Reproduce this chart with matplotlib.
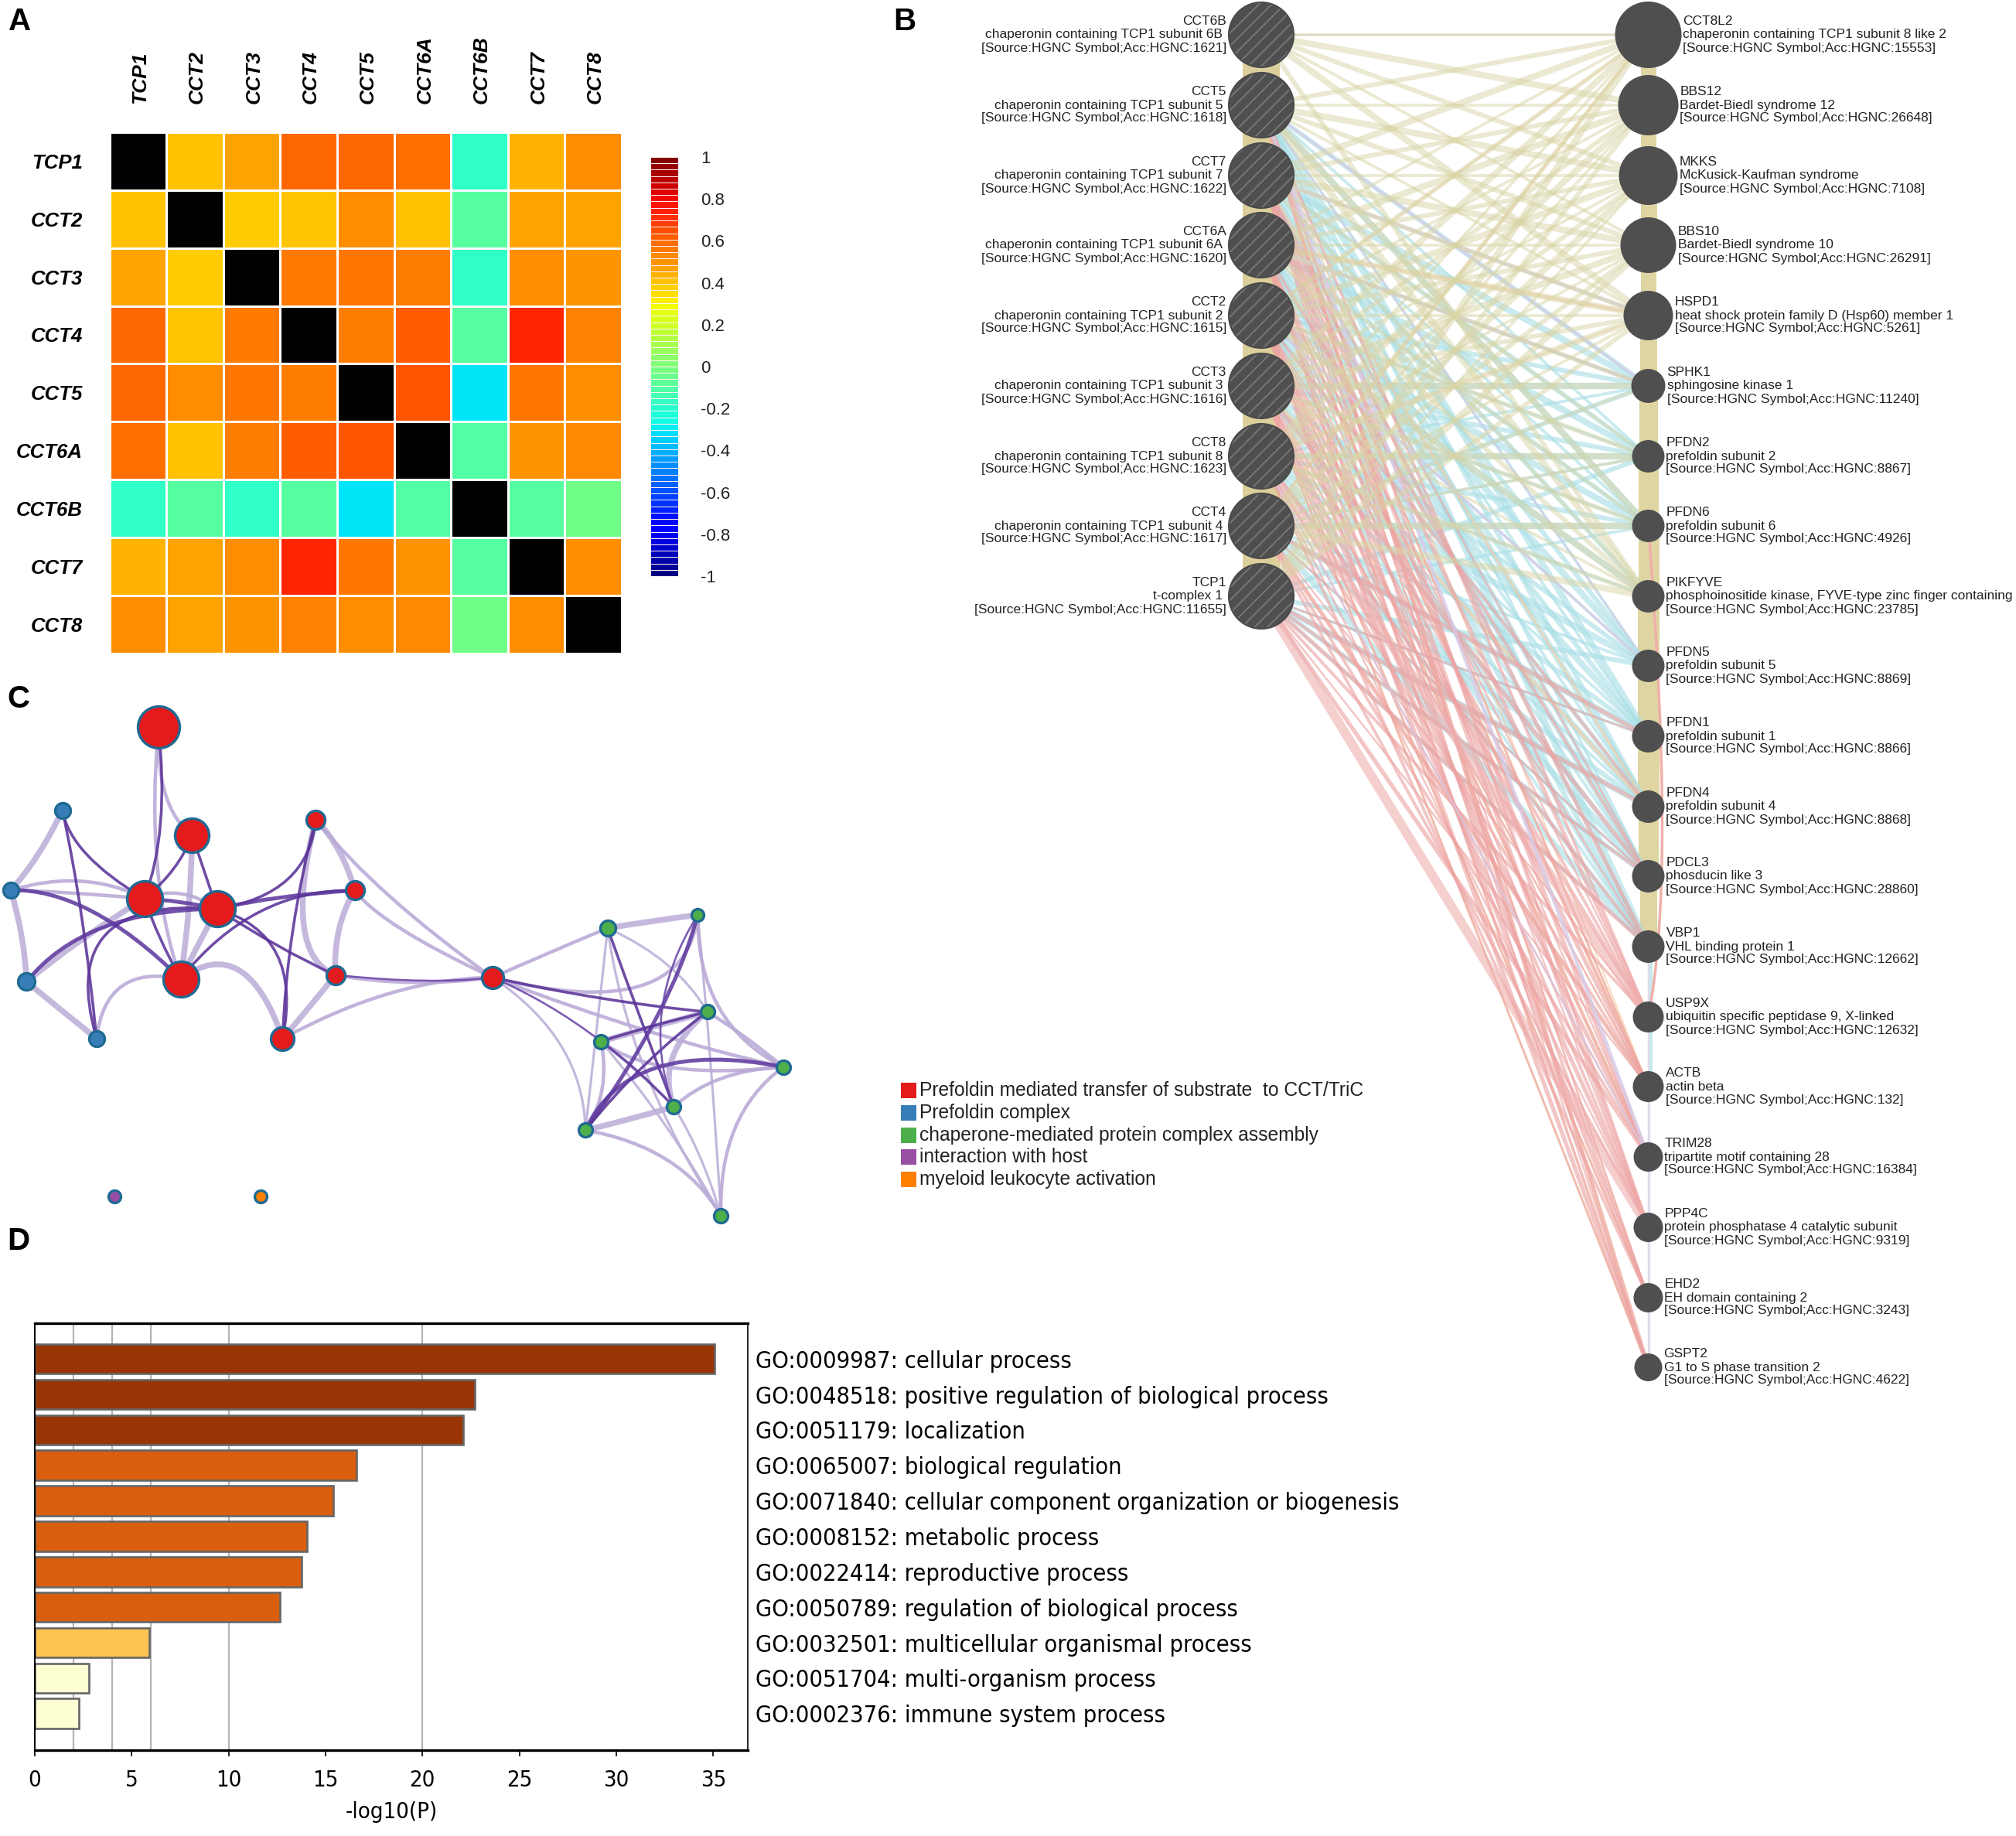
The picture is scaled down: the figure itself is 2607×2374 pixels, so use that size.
import numpy as np
import matplotlib
matplotlib.use("Agg")
import matplotlib.pyplot as plt
from matplotlib.path import Path
from matplotlib.patches import PathPatch, Circle
from matplotlib.transforms import ScaledTranslation

W, H = 2607, 2374
DPI = 100
plt.rcParams['font.family'] = ['Liberation Sans', 'DejaVu Sans']
plt.rcParams['hatch.linewidth'] = 1.4

# ---------- Panel A data ----------
genes = ["TCP1", "CCT2", "CCT3", "CCT4", "CCT5", "CCT6A", "CCT6B", "CCT7", "CCT8"]
corr_upper = [
    [.41, .47, .60, .60, .58, -.18, .44, .52],
    [.39, .40, .52, .41, -.09, .47, .47],
    [.56, .57, .55, -.18, .52, .50],
    [.55, .62, -.09, .74, .54],
    [.64, -.30, .57, .52],
    [-.10, .50, .53],
    [-.09, -.03],
    [.52],
]
cbar_ticks = [1, .8, .6, .4, .2, 0, -.2, -.4, -.6, -.8, -1]
cbar_labels = ["1", "0.8", "0.6", "0.4", "0.2", "0", "-0.2", "-0.4", "-0.6", "-0.8", "-1"]

# ---------- Panel B data ----------
left_genes = [
    ("CCT6B", "chaperonin containing TCP1 subunit 6B", "1621"),
    ("CCT5", "chaperonin containing TCP1 subunit 5", "1618"),
    ("CCT7", "chaperonin containing TCP1 subunit 7", "1622"),
    ("CCT6A", "chaperonin containing TCP1 subunit 6A", "1620"),
    ("CCT2", "chaperonin containing TCP1 subunit 2", "1615"),
    ("CCT3", "chaperonin containing TCP1 subunit 3", "1616"),
    ("CCT8", "chaperonin containing TCP1 subunit 8", "1623"),
    ("CCT4", "chaperonin containing TCP1 subunit 4", "1617"),
    ("TCP1", "t-complex 1", "11655"),
]
left_y = [45, 136, 227, 317, 408, 499, 590, 680, 771]
right_genes = [
    ("CCT8L2", "chaperonin containing TCP1 subunit 8 like 2", "15553"),
    ("BBS12", "Bardet-Biedl syndrome 12", "26648"),
    ("MKKS", "McKusick-Kaufman syndrome", "7108"),
    ("BBS10", "Bardet-Biedl syndrome 10", "26291"),
    ("HSPD1", "heat shock protein family D (Hsp60) member 1", "5261"),
    ("SPHK1", "sphingosine kinase 1", "11240"),
    ("PFDN2", "prefoldin subunit 2", "8867"),
    ("PFDN6", "prefoldin subunit 6", "4926"),
    ("PIKFYVE", "phosphoinositide kinase, FYVE-type zinc finger containing", "23785"),
    ("PFDN5", "prefoldin subunit 5", "8869"),
    ("PFDN1", "prefoldin subunit 1", "8866"),
    ("PFDN4", "prefoldin subunit 4", "8868"),
    ("PDCL3", "phosducin like 3", "28860"),
    ("VBP1", "VHL binding protein 1", "12662"),
    ("USP9X", "ubiquitin specific peptidase 9, X-linked", "12632"),
    ("ACTB", "actin beta", "132"),
    ("TRIM28", "tripartite motif containing 28", "16384"),
    ("PPP4C", "protein phosphatase 4 catalytic subunit", "9319"),
    ("EHD2", "EH domain containing 2", "3243"),
    ("GSPT2", "G1 to S phase transition 2", "4622"),
]
right_y = [45, 136, 227, 317, 408, 499, 590, 680, 771, 861, 952, 1043, 1133, 1224,
           1315, 1405, 1496, 1587, 1678, 1768]
right_r = [43, 39, 38, 36, 32, 22, 21, 21, 21, 21, 21, 21, 21, 21, 20, 20, 19, 19, 19, 18]

ALL = [0, 1, 2, 3, 4, 5, 6, 7, 8]
khaki_links = {
    "CCT8L2": ALL, "BBS12": ALL, "MKKS": ALL, "BBS10": ALL, "HSPD1": ALL,
    "SPHK1": [3, 5, 7], "PFDN2": [2, 4, 6, 7], "PFDN6": [1, 3, 5, 7],
    "PIKFYVE": [0, 1, 2, 3, 4, 5, 6, 7],
}
cyan_links = {
    "SPHK1": [1, 2, 3, 4, 5, 6, 7], "PFDN2": [1, 2, 3, 4, 5, 6, 7, 8],
    "PFDN6": [1, 2, 3, 4, 5, 6, 7, 8], "PIKFYVE": [2, 4, 6],
    "PFDN5": [1, 2, 3, 4, 5, 6, 7, 8], "PFDN1": [1, 2, 3, 4, 5, 6, 7, 8],
    "PFDN4": [1, 2, 3, 4, 5, 6, 7, 8], "PDCL3": [1, 2, 3, 4, 5, 6, 7, 8],
    "VBP1": [1, 2, 3, 4, 5, 6, 7, 8],
}
pink_links = {
    "PFDN1": [7, 8], "PFDN4": [4, 8], "PDCL3": [2, 3, 5, 7, 8], "VBP1": [2, 4, 6, 8],
    "USP9X": [1, 2, 3, 4, 5, 7, 8], "ACTB": [2, 3, 4, 5, 6, 7, 8],
    "TRIM28": [2, 3, 4, 5, 6, 7, 8], "PPP4C": [1, 2, 3, 4, 5, 6, 7],
    "EHD2": [2, 3, 4, 5, 6], "GSPT2": [1, 2, 3, 4, 5],
}
pink_strong = [("CCT8", "USP9X"), ("TCP1", "PPP4C")]
orange_links = {
    "CCT8L2": [4, 7], "HSPD1": [3, 6], "PFDN4": [2, 5], "ACTB": [1, 2, 3, 5, 7],
    "TRIM28": [4, 6], "EHD2": [2, 5], "GSPT2": [1, 3, 5],
}
lav_links = {"CCT8L2": [0], "SPHK1": [1, 3], "PFDN5": [1, 4], "HSPD1": [2], "TRIM28": [1, 6]}
band_links = [("CCT8L2", "BBS12", 20), ("BBS12", "MKKS", 20), ("MKKS", "BBS10", 21),
              ("BBS10", "HSPD1", 20), ("HSPD1", "SPHK1", 22), ("SPHK1", "PFDN2", 24),
              ("PFDN2", "PFDN6", 26), ("PFDN6", "PIKFYVE", 27), ("PIKFYVE", "PFDN5", 28),
              ("PFDN5", "PFDN1", 28), ("PFDN1", "PFDN4", 28), ("PFDN4", "PDCL3", 26),
              ("PDCL3", "VBP1", 22)]

# ---------- Panel C data (picture coordinates of the network panel) ----------
c_nodes = {
    "R0": (292, 130, 27, "#e41a1c"), "R1": (354, 435, 22, "#e41a1c"),
    "R2": (266, 614, 23, "#e41a1c"), "R3": (400, 643, 23, "#e41a1c"),
    "R4": (333, 840, 23, "#e41a1c"), "R5": (582, 391, 12, "#e41a1c"),
    "R6": (654, 591, 12, "#e41a1c"), "R7": (618, 829, 12, "#e41a1c"),
    "R8": (521, 1008, 15, "#e41a1c"), "R9": (908, 836, 14, "#e41a1c"),
    "B0": (115, 365, 10, "#377eb8"), "B1": (20, 590, 10, "#377eb8"),
    "B2": (49, 848, 11, "#377eb8"), "B3": (178, 1008, 10, "#377eb8"),
    "G0": (1120, 697, 10, "#4daf4a"), "G1": (1286, 660, 8, "#4daf4a"),
    "G2": (1304, 933, 9, "#4daf4a"), "G3": (1108, 1016, 9, "#4daf4a"),
    "G4": (1444, 1088, 9, "#4daf4a"), "G5": (1242, 1200, 9, "#4daf4a"),
    "G6": (1079, 1266, 9, "#4daf4a"), "G7": (1329, 1507, 9, "#4daf4a"),
    "P0": (211, 1452, 8, "#984ea3"), "O0": (481, 1452, 8, "#ff7f00"),
}
# (from, to, passes-through x, y, kind)
c_edges = [
    ("R0", "R4", 290, 520, "l"), ("R0", "R1", 305, 320, "l"),
    ("R1", "R4", 348, 640, "L"), ("R3", "R4", 365, 745, "L"),
    ("B0", "B1", 70, 490, "L"), ("B1", "B2", 40, 720, "L"), ("B2", "B3", 113, 928, "L"),
    ("B1", "R2", 150, 565, "l"), ("B1", "R2", 130, 598, "l"), ("B2", "R2", 150, 730, "L"),
    ("B3", "R4", 225, 860, "l"), ("R4", "R8", 440, 815, "L"),
    ("R5", "R6", 625, 480, "L"), ("R5", "R9", 720, 610, "l"), ("R6", "R9", 740, 700, "l"),
    ("R6", "R7", 625, 700, "L"), ("R5", "R7", 560, 690, "L"), ("R7", "R8", 570, 920, "L"),
    ("R7", "R9", 760, 850, "l"), ("R8", "R9", 720, 880, "l"), ("R2", "R3", 333, 600, "l"),
    ("R9", "G0", 1010, 768, "l"), ("R9", "G1", 1180, 860, "l"), ("R9", "G6", 1035, 1030, "t"),
    ("R9", "G4", 1190, 985, "l"), ("G0", "G1", 1200, 678, "L"), ("G0", "G6", 1100, 980, "t"),
    ("G0", "G2", 1230, 800, "t"), ("G0", "G7", 1190, 1100, "t"), ("G1", "G7", 1310, 1080, "t"),
    ("G1", "G4", 1325, 920, "l"), ("G2", "G4", 1370, 1000, "l"), ("G2", "G5", 1240, 1060, "L"),
    ("G3", "G6", 1110, 1150, "l"), ("G4", "G5", 1330, 1120, "l"), ("G4", "G7", 1355, 1260, "l"),
    ("G5", "G6", 1160, 1235, "L"), ("G6", "G7", 1230, 1350, "l"), ("G3", "G7", 1230, 1260, "t"),
    ("G5", "G7", 1290, 1340, "t"), ("G3", "G4", 1240, 1090, "l"), ("G2", "G3", 1205, 975, "L"),
    ("R0", "R2", 296, 400, "D"), ("R1", "R2", 320, 530, "D"), ("R1", "R3", 375, 530, "D"),
    ("R2", "R3", 333, 624, "X"), ("R2", "R4", 295, 725, "D"), ("B0", "R2", 160, 490, "D"),
    ("B0", "B3", 150, 660, "D"), ("B1", "R4", 170, 650, "X"), ("B2", "R3", 190, 695, "X"),
    ("B3", "R3", 195, 715, "D"), ("R3", "R7", 510, 745, "D"), ("R3", "R6", 520, 610, "X"),
    ("R3", "R5", 530, 560, "D"), ("R5", "R8", 540, 700, "D"), ("R8", "R3", 510, 770, "D"),
    ("R4", "R6", 480, 650, "D"), ("R7", "R9", 780, 845, "d"), ("R9", "G2", 1110, 895, "D"),
    ("R9", "G3", 1010, 915, "d"), ("G0", "G5", 1180, 950, "D"), ("G1", "G6", 1210, 950, "X"),
    ("G2", "G6", 1190, 1080, "D"), ("G2", "G3", 1205, 972, "D"), ("G3", "G5", 1175, 1100, "D"),
    ("G4", "G6", 1210, 1090, "X"), ("G1", "G5", 1220, 930, "d"),
]
legend_labels = ["Prefoldin mediated transfer of substrate  to CCT/TriC", "Prefoldin complex",
                 "chaperone-mediated protein complex assembly", "interaction with host",
                 "myeloid leukocyte activation"]
legend_colors = ["#e41a1c", "#377eb8", "#4daf4a", "#984ea3", "#ff7f00"]

# ---------- Panel D data ----------
go_terms = ["GO:0009987: cellular process", "GO:0048518: positive regulation of biological process",
            "GO:0051179: localization", "GO:0065007: biological regulation",
            "GO:0071840: cellular component organization or biogenesis", "GO:0008152: metabolic process",
            "GO:0022414: reproductive process", "GO:0050789: regulation of biological process",
            "GO:0032501: multicellular organismal process", "GO:0051704: multi-organism process",
            "GO:0002376: immune system process"]
go_values = [35.05, 22.7, 22.1, 16.6, 15.4, 14.05, 13.75, 12.65, 5.93, 2.82, 2.3]
go_colors = ["#993404"] * 3 + ["#d95f0e"] * 5 + ["#fec44f"] + ["#ffffd4"] * 2
grid_x = [2, 4, 6, 10, 20]

fig = plt.figure(figsize=(W / DPI, H / DPI), dpi=DPI, facecolor="white")


def px_axes(x0, y0, x1, y1):
    return fig.add_axes([x0 / W, 1 - y1 / H, (x1 - x0) / W, (y1 - y0) / H])


for s, x, y in [("A", 11, 28), ("B", 1155, 28), ("C", 9, 904), ("D", 9, 1605)]:
    fig.text(x / W, 1 - y / H, s, fontsize=29, fontweight="bold", va="center", ha="left", color="black")

# ---------- A: heatmap ----------
n = len(genes)
M = np.eye(n)
for i, row in enumerate(corr_upper):
    for j, v in enumerate(row):
        M[i, i + 1 + j] = M[i + 1 + j, i] = v
cmap = plt.get_cmap("jet").copy()
cmap.set_bad("black")
ax = px_axes(141.6, 171, 804, 844.5)
ax.pcolormesh(np.ma.masked_where(np.eye(n, dtype=bool), M), cmap=cmap, vmin=-1, vmax=1,
              edgecolors="white", linewidth=.9)
ax.set_xlim(0, n)
ax.set_ylim(n, 0)
ax.xaxis.tick_top()
ax.set_xticks(np.arange(n) + .5, genes, rotation=90, fontsize=19, fontweight="bold", style="italic", va="bottom")
ax.set_yticks(np.arange(n) + .5, genes, fontsize=18.5, fontweight="bold", style="italic")
ax.tick_params(axis="x", length=0, pad=27)
ax.tick_params(axis="y", length=0, pad=25)
for lbl in ax.get_xticklabels():
    lbl.set_transform(lbl.get_transform() + ScaledTranslation(.03, 0, fig.dpi_scale_trans))
for sp in ax.spines.values():
    sp.set_visible(False)

cax = px_axes(841, 203, 877, 745)
lev = np.linspace(-1, 1, 67)
cax.pcolormesh([0, 1], lev, ((lev[:-1] + lev[1:]) / 2)[:, None], cmap="jet", vmin=-1, vmax=1,
               edgecolors="#fff2f2", linewidth=.5)
cax.set_xticks([])
cax.yaxis.tick_right()
cax.set_yticks(cbar_ticks, cbar_labels, fontsize=16, color="#222222")
cax.tick_params(axis="y", length=0, pad=21)
for sp in cax.spines.values():
    sp.set_visible(False)

# ---------- B: gene network ----------
LX, RX = 1631, 2131.5
bx = px_axes(1240, 0, 2607, 1830)
bx.set_xlim(1240, 2607)
bx.set_ylim(1830, 0)
bx.axis("off")
r_index = {g[0]: i for i, g in enumerate(right_genes)}
l_index = {g[0]: i for i, g in enumerate(left_genes)}


def draw_links(links, color, lw_px, alpha):
    for rg, lefts in links.items():
        k = r_index[rg]
        for m, l in enumerate(lefts):
            w = lw_px * (0.7 + 0.4 * ((l * 3 + k * 5 + m) % 3))
            bx.plot([LX, RX], [left_y[l], right_y[k]], color=color, lw=w * .72, alpha=alpha,
                    solid_capstyle="butt", zorder=2)


bx.plot([LX, LX], [left_y[0], left_y[-1]], color="#dccf9c", lw=48 * .72, solid_capstyle="butt", zorder=1)
for a, b, w in band_links:
    bx.plot([RX, RX], [right_y[r_index[a]], right_y[r_index[b]]], color="#dfd5a2", lw=w * .72,
            solid_capstyle="butt", zorder=1)
bx.plot([RX, RX], [right_y[r_index["VBP1"]], right_y[r_index["GSPT2"]]], color="#e2dcec", lw=2.5,
        solid_capstyle="butt", zorder=1)
bx.plot([RX + 3, RX + 3], [right_y[r_index["VBP1"]], right_y[r_index["ACTB"]]], color="#c9e8ee", lw=3,
        solid_capstyle="butt", zorder=1)
bx.add_patch(PathPatch(Path([(RX, right_y[r_index["PFDN6"]]), (RX + 36, right_y[r_index["PDCL3"]]),
                             (RX, right_y[r_index["USP9X"]])], [1, 3, 3]),
                       fc="none", ec="#efb0a8", lw=2.5, zorder=1))
draw_links(cyan_links, "#a9dfe6", 5.5, .62)
draw_links(orange_links, "#f6c9a0", 3, .6)
draw_links(pink_links, "#eda4a4", 3.6, .62)
for a, b in pink_strong:
    bx.plot([LX, RX], [left_y[l_index[a]], right_y[r_index[b]]], color="#efb0b0", lw=12 * .72, alpha=.62,
            solid_capstyle="butt", zorder=2)
draw_links(lav_links, "#d6cbe8", 3, .8)
draw_links(khaki_links, "#d9d5a6", 5.5, .5)

for y, g in zip(left_y, left_genes):
    bx.add_patch(Circle((LX, y), 42, fc="#4f4f4f", ec="#767676", hatch="//", lw=0, zorder=4))
    bx.add_patch(Circle((LX, y), 42, fc="none", ec="#4b4b4b", lw=1.5, zorder=5))
    for dy, xr, t in [(-17.5, 1585.5, g[0]), (0, 1581, g[1]), (17, 1586, f"[Source:HGNC Symbol;Acc:HGNC:{g[2]}]")]:
        bx.text(xr, y + dy, t, ha="right", va="center", fontsize=12.55, color="#222222", zorder=6)
for y, r, g in zip(right_y, right_r, right_genes):
    bx.add_patch(Circle((RX, y), r, fc="#4f4f4f", ec="none", zorder=4))
    for dy, t in [(-17.5, g[0]), (0, g[1]), (17, f"[Source:HGNC Symbol;Acc:HGNC:{g[2]}]")]:
        bx.text(RX + r + 2, y + dy, t, ha="left", va="center", fontsize=12.55, color="#222222", zorder=6)

# ---------- C: enrichment network ----------
cx_ = px_axes(0, 880, 1100, 1600)
cx_.set_xlim(0, 1568)
cx_.set_ylim(1568, 0)
cx_.axis("off")
cx_.patch.set_alpha(0)
styles = {"t": ("#bcaed8", 3.2), "l": ("#b9a9d6", 4.5), "L": ("#bdaed9", 7.5),
          "d": ("#6a45a8", 2.6), "D": ("#5b3499", 3.6), "X": ("#5f3a9f", 5)}
for a, b, vx, vy, kind in c_edges:
    p0 = np.array(c_nodes[a][:2], float)
    p2 = np.array(c_nodes[b][:2], float)
    ctrl = 2 * np.array([vx, vy], float) - (p0 + p2) / 2
    col, wpx = styles[kind]
    cx_.add_patch(PathPatch(Path([p0, ctrl, p2], [1, 3, 3]), fc="none", ec=col, lw=wpx * .72,
                            capstyle="butt", alpha=.88, zorder=2))
for x, y, r, c in c_nodes.values():
    cx_.scatter([x], [y], s=(2 * r * .72) ** 2, c=c, edgecolors="#1f6a92", linewidths=2.4, zorder=3)

lx = px_axes(1160, 1395.5, 1800, 1539.5)
lx.set_xlim(1160, 1800)
lx.set_ylim(4.5, -.5)
lx.axis("off")
for i, (t, c) in enumerate(zip(legend_labels, legend_colors)):
    lx.scatter([1175], [i], marker="s", s=(20 * .72) ** 2, c=c, linewidths=0)
    lx.text(1189, i, t, va="center", ha="left", fontsize=17.7, color="#222222")

# ---------- D: bar chart ----------
dx = px_axes(44.8, 1710.6, 967.4, 2262.5)
ypos = np.arange(len(go_values))
dx.vlines(grid_x, -1.1, len(go_values) + 1, color="#b4b4b4", lw=1.6, zorder=1)
dx.barh(ypos, go_values, height=.84, color=go_colors, edgecolor="#666666", linewidth=1.9, zorder=2)
dx.set_xlim(0, 36.8)
dx.set_ylim(10 + 1.02, -1.015)
DF = dict(family="DejaVu Sans", stretch="condensed")
dx.set_xticks(range(0, 36, 5), [str(v) for v in range(0, 36, 5)], fontsize=21, **DF)
dx.yaxis.tick_right()
dx.set_yticks(ypos, go_terms, fontsize=22.1, **DF)
dx.tick_params(axis="y", length=0, pad=7)
dx.tick_params(axis="x", length=6, width=1.2, pad=12)
dx.set_xlabel("-log10(P)", fontsize=21, labelpad=10, **DF)
dx.spines["top"].set_linewidth(2.4)
dx.spines["bottom"].set_linewidth(2.4)
dx.spines["left"].set_linewidth(1.4)
dx.spines["right"].set_linewidth(1.2)

fig.savefig("out.png", dpi=DPI)
